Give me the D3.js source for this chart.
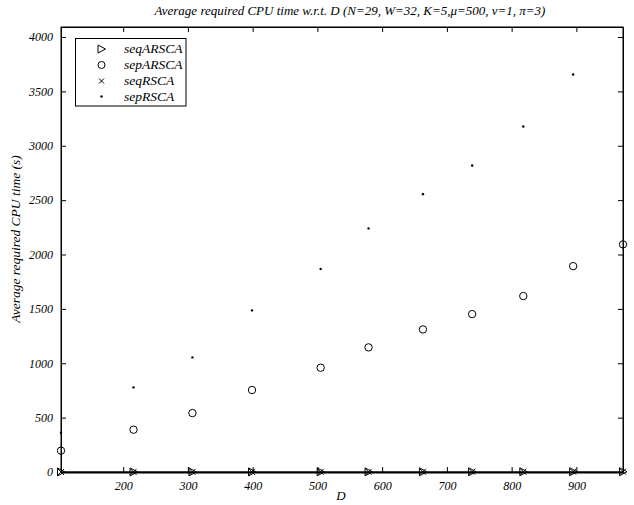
<!DOCTYPE html>
<html><head><meta charset="utf-8">
<script src="https://cdn.jsdelivr.net/npm/d3@7"></script>
<style>
body{margin:0;background:#fff;}
text{font-family:"Liberation Serif","DejaVu Serif",serif;font-style:italic;fill:#000;}
</style></head>
<body><svg id="c" width="634" height="505"></svg>
<script>
const D = [104, 216, 307, 399, 505, 579, 663, 739, 818, 895, 972];
const seqARSCA = [0.3, 0.6, 0.8, 1.0, 1.3, 1.5, 1.7, 1.9, 2.1, 2.3, 2.5];
const sepARSCA = [196, 389, 542, 754, 959, 1146, 1311, 1452, 1618, 1893, 2093];
const seqRSCA = [0.4, 0.8, 1.1, 1.4, 1.8, 2.0, 2.3, 2.6, 2.9, 3.2, 3.5];
const sepRSCA = [361, 778, 1054, 1486, 1866, 2240, 2555, 2819, 3177, 3655, null];
const xTicks = [200, 300, 400, 500, 600, 700, 800, 900];
const yTicks = [0, 500, 1000, 1500, 2000, 2500, 3000, 3500, 4000];
const seriesNames = ["seqARSCA", "sepARSCA", "seqRSCA", "sepRSCA"];
const title = "Average required CPU time w.r.t. D (N=29, W=32, K=5,\u03bc=500, \u03bd=1, \u03c0=3)";
const yLabel = "Average required CPU time (s)";
const xLabel = "D";

const svg = d3.select("#c");
const L = 61, R = 623, T = 27, B = 472;
const x = d3.scaleLinear().domain([104, 972]).range([L, R]);
const y = d3.scaleLinear().domain([0, 4092]).range([B, T]);

svg.append("rect").attr("x", L).attr("y", T).attr("width", R - L).attr("height", B - T)
  .attr("fill", "none").attr("stroke", "#000").attr("stroke-width", 1);

const tl = 5;
const xa = svg.append("g").attr("transform", `translate(0,${B})`)
  .call(d3.axisBottom(x).tickValues(xTicks).tickSizeInner(-tl).tickSizeOuter(0).tickPadding(9).tickFormat(d3.format("d")));
const xt = svg.append("g").attr("transform", `translate(0,${T})`)
  .call(d3.axisTop(x).tickValues(xTicks).tickSizeInner(-tl).tickSizeOuter(0).tickFormat(""));
const ya = svg.append("g").attr("transform", `translate(${L},0)`)
  .call(d3.axisLeft(y).tickValues(yTicks).tickSizeInner(-tl).tickSizeOuter(0).tickPadding(8).tickFormat(d3.format("d")));
const yr = svg.append("g").attr("transform", `translate(${R},0)`)
  .call(d3.axisRight(y).tickValues(yTicks).tickSizeInner(-tl).tickSizeOuter(0).tickFormat(""));
[xa, xt, ya, yr].forEach(g => {
  g.select(".domain").attr("stroke", "#000");
  g.selectAll(".tick line").attr("stroke", "#000");
  g.selectAll("text").attr("font-size", 12).attr("font-family", null).attr("fill", "#000");
});
xa.select(".domain").attr("stroke-width", 2);

const triPath = "M-3.5,-4L4,0L-3.5,4Z";
const plotG = svg.append("g");
const pts = (vals) => D.map((d, i) => [x(d), vals[i] == null ? null : y(vals[i])]).filter(p => p[1] != null);

plotG.selectAll(".tri").data(pts(seqARSCA)).join("path")
  .attr("d", triPath).attr("transform", d => `translate(${d[0]},${d[1]})`)
  .attr("fill", "none").attr("stroke", "#000").attr("stroke-width", 1);
plotG.selectAll(".circ").data(pts(sepARSCA)).join("circle")
  .attr("cx", d => d[0]).attr("cy", d => d[1]).attr("r", 3.7)
  .attr("fill", "none").attr("stroke", "#000").attr("stroke-width", 1);
plotG.selectAll(".cross").data(pts(seqRSCA)).join("path")
  .attr("d", "M-3,-3L3,3M-3,3L3,-3").attr("transform", d => `translate(${d[0]},${d[1]})`)
  .attr("stroke", "#000").attr("stroke-width", 1);
plotG.selectAll(".dot").data(pts(sepRSCA)).join("circle")
  .attr("cx", d => d[0]).attr("cy", d => d[1]).attr("r", 1.2).attr("fill", "#000");

const lg = svg.append("g");
lg.append("rect").attr("x", 75.5).attr("y", 38.5).attr("width", 110.5).attr("height", 67.5)
  .attr("fill", "#fff").attr("stroke", "#000").attr("stroke-width", 1);
const rows = [49, 65, 81, 96.5];
seriesNames.forEach((n, i) => {
  const cy = rows[i], cx = 101.5;
  if (i === 0) lg.append("path").attr("d", triPath).attr("transform", `translate(${cx},${cy})`).attr("fill", "none").attr("stroke", "#000");
  if (i === 1) lg.append("circle").attr("cx", cx).attr("cy", cy).attr("r", 3.5).attr("fill", "none").attr("stroke", "#000");
  if (i === 2) lg.append("path").attr("d", "M-2.5,-2.5L2.5,2.5M-2.5,2.5L2.5,-2.5").attr("transform", `translate(${cx},${cy})`).attr("stroke", "#000");
  if (i === 3) lg.append("circle").attr("cx", cx).attr("cy", cy).attr("r", 1.2).attr("fill", "#000");
  lg.append("text").attr("x", 124).attr("y", cy + 4).attr("font-size", 13.5).text(n);
});

svg.append("text").attr("x", 350).attr("y", 15).attr("text-anchor", "middle").attr("font-size", 13).text(title);
svg.append("text").attr("x", 341).attr("y", 500).attr("text-anchor", "middle").attr("font-size", 13).text(xLabel);
svg.append("text").attr("transform", "translate(20,239) rotate(-90)").attr("text-anchor", "middle").attr("font-size", 13.5).text(yLabel);
</script></body></html>
